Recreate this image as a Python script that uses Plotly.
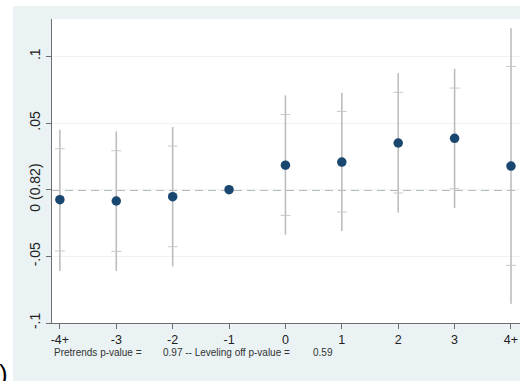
import plotly.graph_objects as go

categories = ["-4+", "-3", "-2", "-1", "0", "1", "2", "3", "4+"]
estimates = [-0.0075, -0.0085, -0.0053, 0.0, 0.0184, 0.0207, 0.0350, 0.0385, 0.0177]
ci95_low = [-0.061, -0.061, -0.0575, None, -0.0337, -0.031, -0.0172, -0.0138, -0.0855]
ci95_high = [0.045, 0.0437, 0.047, None, 0.0707, 0.0727, 0.0874, 0.0907, 0.121]
ci90_low = [-0.046, -0.0463, -0.0428, None, -0.0193, -0.0168, -0.0025, 0.0007, -0.0568]
ci90_high = [0.0307, 0.0292, 0.0327, None, 0.0564, 0.0587, 0.0730, 0.0762, 0.0924]
y_ticks = [-0.1, -0.05, 0, 0.05, 0.1]
y_ticklabels = ["-.1", "-.05", "0 (0.82)", ".05", ".1"]
pretrend_p = "0.97"
leveling_p = "0.59"

x_range = [-0.14, 8.16]
y_range = [-0.1, 0.128]

W, H = 520, 381
L, R, T, B = 52, 0, 19, 58
pw, ph = W - L - R, H - T - B

def px_x(x):
    return (x - L) / pw

def px_y(y):
    return (H - B - y) / ph

bg = "#eaf2f3"
font = "Liberation Sans, Arial, sans-serif"

fig = go.Figure()

# outer CI lines
xs_ci, ys_ci = [], []
for c, lo, hi in zip(categories, ci95_low, ci95_high):
    if lo is None:
        continue
    xs_ci += [c, c, None]
    ys_ci += [lo, hi, None]
fig.add_trace(go.Scatter(x=xs_ci, y=ys_ci, mode="lines",
                         line=dict(color="#bdbdbd", width=1.6),
                         hoverinfo="skip", showlegend=False))

# inner CI tick marks
in_x, in_y = [], []
for c, lo, hi in zip(categories, ci90_low, ci90_high):
    if lo is None:
        continue
    in_x += [c, c]
    in_y += [lo, hi]
fig.add_trace(go.Scatter(x=in_x, y=in_y, mode="markers",
                         marker=dict(symbol="line-ew", size=7,
                                     line=dict(color="#c8c8c8", width=1)),
                         hoverinfo="skip", showlegend=False))

# dashed zero reference line
fig.add_shape(type="line", xref="paper", x0=0, x1=1, yref="y", y0=0, y1=0,
              line=dict(color="#6f7a7a", width=1.5, dash="8px,5px"), layer="below")

# point estimates
fig.add_trace(go.Scatter(x=categories, y=estimates, mode="markers",
                         marker=dict(color="#1a476f", size=9.5),
                         showlegend=False))

# white margins outside the Stata background panel
fig.add_shape(type="rect", xref="paper", yref="paper",
              x0=px_x(-5), x1=px_x(13), y0=px_y(H + 5), y1=px_y(-5),
              fillcolor="white", line=dict(width=0), layer="above")
fig.add_shape(type="rect", xref="paper", yref="paper",
              x0=px_x(-5), x1=px_x(W + 5), y0=px_y(6), y1=px_y(-5),
              fillcolor="white", line=dict(width=0), layer="above")

# note below axis
note_style = dict(xref="paper", yref="paper", showarrow=False, xanchor="left",
                  yanchor="middle", font=dict(family=font, size=10, color="#333333"))
fig.add_annotation(x=px_x(52), y=px_y(352), text="Pretrends p-value =", **note_style)
fig.add_annotation(x=px_x(161), y=px_y(352),
                   text=pretrend_p + " -- Leveling off p-value =", **note_style)
fig.add_annotation(x=px_x(311), y=px_y(352), text=leveling_p, **note_style)

# cropped caption parenthesis
fig.add_annotation(x=px_x(-3), y=px_y(374), xref="paper", yref="paper",
                   showarrow=False, xanchor="left", yanchor="middle",
                   text=")", font=dict(family=font, size=26, color="black"))

fig.update_layout(
    width=W, height=H,
    margin=dict(l=L, r=R, t=T, b=B, pad=0, autoexpand=False),
    paper_bgcolor=bg, plot_bgcolor="white",
    font=dict(family=font, size=11, color="#222222"),
    showlegend=False,
)
fig.update_xaxes(type="category", categoryorder="array", categoryarray=categories,
                 range=x_range, showgrid=False, zeroline=False, automargin=False,
                 showline=True, linecolor="#6e6e6e", linewidth=1,
                 ticks="outside", ticklen=5, tickcolor="#6e6e6e",
                 tickfont=dict(size=12.5, color="#222222"))
fig.update_yaxes(range=y_range, tickvals=y_ticks, ticktext=y_ticklabels,
                 tickangle=-90, showgrid=True, gridcolor="#eef3f4", gridwidth=1,
                 zeroline=False, showline=True, linecolor="#6e6e6e", linewidth=1,
                 automargin=False,
                 ticks="outside", ticklen=5, tickcolor="#6e6e6e",
                 tickfont=dict(size=14, color="#222222"))

fig.write_html("out.html", config={"displayModeBar": False},
               post_script="document.body.style.margin='0px';document.body.style.overflow='hidden';")
